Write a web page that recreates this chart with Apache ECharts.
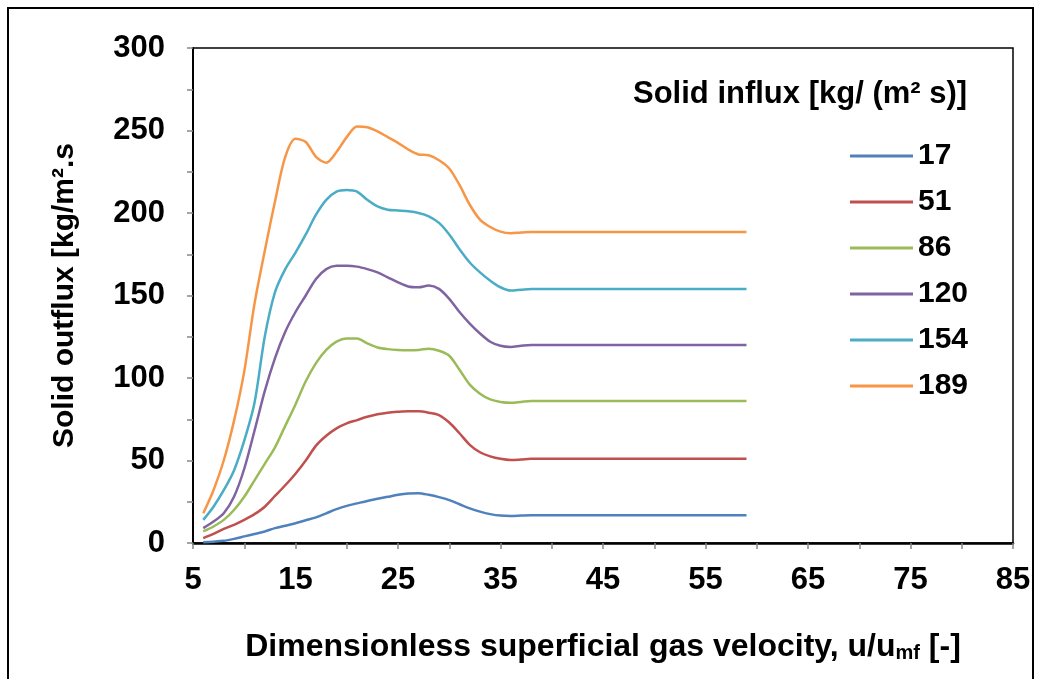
<!DOCTYPE html>
<html>
<head>
<meta charset="utf-8">
<script src="https://cdn.jsdelivr.net/npm/echarts@6/dist/echarts.min.js"></script>
<style>
html,body{margin:0;padding:0;background:#fff;}
#c{width:1041px;height:679px;}
</style>
</head>
<body>
<div id="c"></div>
<script>
// ---- data ----
const xValues = [6,7,8,9,10,11,12,13,14,15,16,17,18,19,20,21,22,23,24,25,26,27,28,29,30,31,32,33,34,35,36,37,38,59];
const seriesNames = ['17','51','86','120','154','189'];
const flux17  = [0.5,0.8,1.3,2.5,4,5.5,7,9,10.5,12,13.8,15.5,18,20.5,22.5,24,25.5,26.8,28,29.2,30,30.2,29.2,27.8,26,23.5,21,19,17.5,16.6,16.4,16.6,16.8,16.8];
const flux51  = [3,5.5,8.5,11,14,17.5,22,28.5,35,42,50,59,65,69.5,72.5,74.5,76.5,78,79,79.5,79.8,79.8,79,77.5,73,66.5,59.5,55,52.5,51,50.3,50.6,51,51];
const flux86  = [7,10,14,20,28,38,48,58,71,84,98,109,117,122,124,124,121,118.5,117.5,117,116.8,117,117.8,116.5,113.5,105,96,90.5,87,85.5,85,85.5,86,86];
const flux120 = [9,13,18,28,45,68,92,112,128,140,150,160,166,168,168,167.5,166,164,161,158,155.5,155,156,154,148,140,133,127,122,119.5,118.8,119.5,120,120];
const flux154 = [14,22,32,44,62,85,125,152,166,176,187,199,208,213,214,213,208,204,202,201.5,201,200,198,194,187,178,170,164,159,155,153,153.5,154,154];
const flux189 = [18,32,50,74,104,145,177,207,234,245,243,234,230.5,237,246,252.5,252,249.5,246,242.5,238.5,235.5,235,232,227,217,205,196,191.5,188.7,187.7,188.2,188.5,188.5];
const allSeries = [flux17, flux51, flux86, flux120, flux154, flux189];
const colors = ['#4F81BD','#C0504D','#9BBB59','#8064A2','#4BACC6','#F79646'];

const chart = echarts.init(document.getElementById('c'), null, {renderer:'canvas'});
const FONT = '"Liberation Sans", Arial, sans-serif';

const series = allSeries.map((vals, k) => ({
  name: seriesNames[k],
  type: 'line',
  data: xValues.map((x, i) => [x, vals[i]]),
  smooth: 0.3,
  symbol: 'none',
  lineStyle: { color: colors[k], width: 2.5 },
  itemStyle: { color: colors[k] },
  z: 3
}));

chart.setOption({
  animation: false,
  backgroundColor: '#fff',
  grid: { left: 193, top: 48, right: 28, bottom: 136, show: true, borderColor: '#000', borderWidth: 1.5, backgroundColor: 'transparent' },
  xAxis: {
    type: 'value', min: 5, max: 85, interval: 5,
    name: '{a|Dimensionless superficial gas velocity, u/u}{s|mf}{a| [-]}',
    nameLocation: 'middle', nameGap: 84,
    nameTextStyle: { rich: {
      a: { fontFamily: FONT, fontWeight: 'bold', fontSize: 32, color: '#000', verticalAlign: 'bottom', lineHeight: 36 },
      s: { fontFamily: FONT, fontWeight: 'bold', fontSize: 20, color: '#000', verticalAlign: 'bottom', lineHeight: 28 }
    }},
    axisLine: { lineStyle: { color: '#000', width: 2.5 } },
    axisTick: { show: true, inside: false, length: 6, lineStyle: { color: '#888', width: 1.5 } },
    splitLine: { show: false },
    axisLabel: {
      margin: 22,
      fontFamily: FONT, fontWeight: 'bold', fontSize: 31, color: '#000',
      formatter: v => ((v - 5) % 10 === 0 ? String(v) : '')
    }
  },
  yAxis: {
    type: 'value', min: 0, max: 300, interval: 25,
    name: 'Solid outflux [kg/m².s',
    nameLocation: 'middle', nameGap: 113, nameRotate: 90,
    nameTextStyle: { fontFamily: FONT, fontWeight: 'bold', fontSize: 30, color: '#000' },
    axisLine: { show: true, lineStyle: { color: '#000', width: 2 } },
    axisTick: { show: true, inside: false, length: 6, lineStyle: { color: '#888', width: 1.5 } },
    splitLine: { show: false },
    axisLabel: {
      margin: 28,
      fontFamily: FONT, fontWeight: 'bold', fontSize: 31, color: '#000',
      formatter: v => (v % 50 === 0 ? String(v) : '')
    }
  },
  legend: {
    orient: 'vertical',
    left: 845, top: 136,
    itemWidth: 63, itemHeight: 3, itemGap: 16,
    data: seriesNames,
    icon: 'rect',
    textStyle: { fontFamily: FONT, fontWeight: 'bold', fontSize: 30, lineHeight: 30, color: '#000' }
  },
  graphic: [
    { type: 'rect', shape: { x: 8, y: 8, width: 1025, height: 720 }, style: { fill: 'none', stroke: '#000', lineWidth: 2 }, silent: true, z: 10 },
    { type: 'text', left: 633, top: 79, style: { text: 'Solid influx [kg/ (m² s)]', font: 'bold 31px "Liberation Sans", Arial, sans-serif', fill: '#000' }, z: 10 }
  ],
  series: series
});
</script>
</body>
</html>
